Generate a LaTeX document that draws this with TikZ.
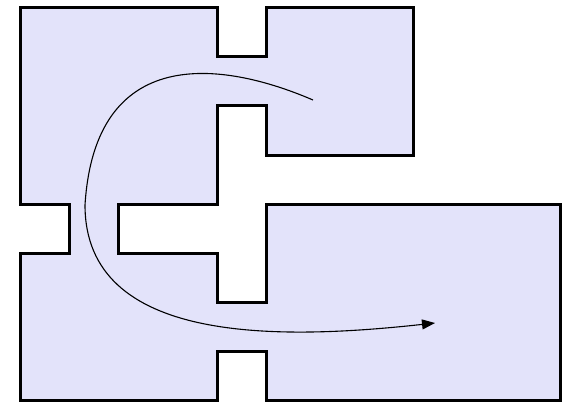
\documentclass[tikz,border=0pt]{standalone}
\usetikzlibrary{arrows.meta}
\definecolor{roomfill}{RGB}{227,227,250}
\begin{document}
\begin{tikzpicture}[x=1pt,y=-1pt,
  wall/.style={draw=black,line width=3pt,fill=roomfill,line join=miter},
  route/.style={draw=black,line width=1.1pt,-{Triangle[length=13pt,width=10pt]}}]
\useasboundingbox (0,0) rectangle (567,402);
\path[wall] (20,7) -- (217,7) -- (217,56) -- (266,56) -- (266,7) -- (413,7)
  -- (413,155) -- (266,155) -- (266,105) -- (217,105) -- (217,204) -- (118,204)
  -- (118,253) -- (217,253) -- (217,302) -- (266,302) -- (266,204) -- (560,204)
  -- (560,400) -- (266,400) -- (266,351) -- (217,351) -- (217,400) -- (20,400)
  -- (20,253) -- (69,253) -- (69,204) -- (20,204) -- cycle;
\coordinate (start) at (313,100);
\coordinate (mid) at (85,205);
\coordinate (goal) at (435,323);
\draw[route] (start) .. controls (220,60) and (95,45) .. (mid)
  .. controls (85,345) and (280,340) .. (goal);
\end{tikzpicture}
\end{document}
